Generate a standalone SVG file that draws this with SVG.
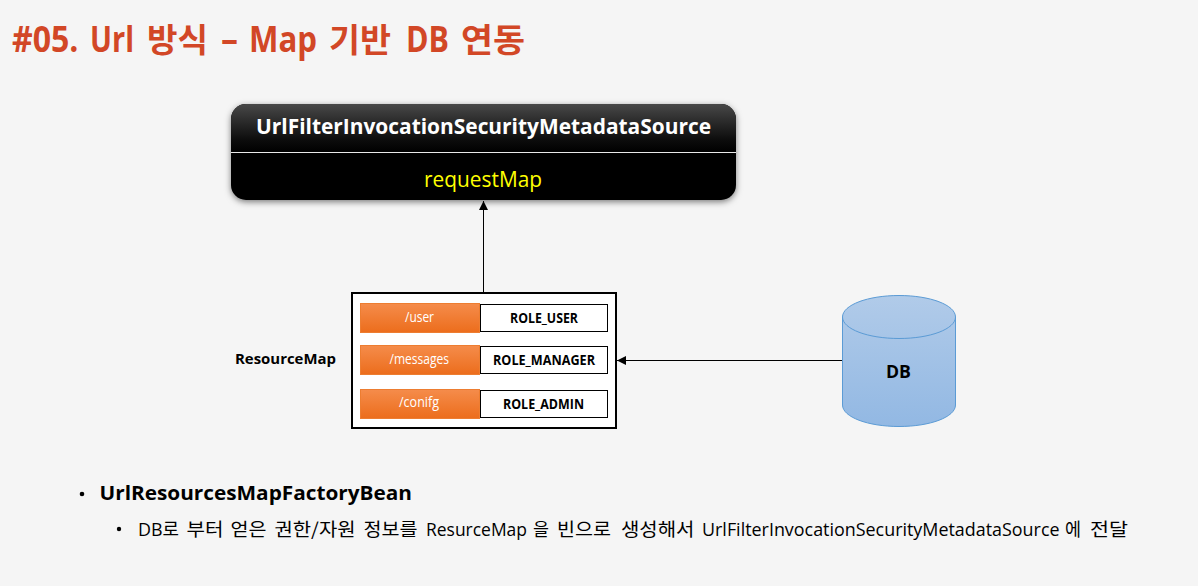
<svg xmlns="http://www.w3.org/2000/svg" width="1198" height="586" viewBox="0 0 1198 586">
<style>
text{font-family:"Open Sans","Noto Sans","Noto Sans CJK KR",sans-serif}
.ko{font-family:"Noto Sans CJK KR",sans-serif}
.k{fill:#000;font-weight:700;font-size:14px}
.o{fill:#fff;font-size:14px}
.orange{fill:url(#og);stroke:#ed7d31;stroke-width:1}
.role{fill:#fff;stroke:#000;stroke-width:1}
.c{stroke:#000;stroke-width:1;fill:none;marker-end:url(#ah)}
</style>
<defs>
<linearGradient id="og" x1="0" y1="0" x2="0" y2="1"><stop offset="0" stop-color="#f58c4b"/><stop offset="1" stop-color="#ec6d1c"/></linearGradient>
<linearGradient id="hd" gradientUnits="userSpaceOnUse" x1="0" y1="104" x2="0" y2="152"><stop offset="0" stop-color="#484848"/><stop offset="0.75" stop-color="#0c0c0c"/><stop offset="1" stop-color="#000"/></linearGradient>
<linearGradient id="db" gradientUnits="userSpaceOnUse" x1="0" y1="295" x2="0" y2="427"><stop offset="0" stop-color="#b1cbe9"/><stop offset="1" stop-color="#92b8e3"/></linearGradient>
<filter id="sh" x="-5%" y="-15%" width="110%" height="135%"><feDropShadow dx="0" dy="2" stdDeviation="3" flood-color="#000" flood-opacity="0.5"/></filter>
<marker id="ah" markerUnits="userSpaceOnUse" markerWidth="10" markerHeight="10" refX="9" refY="4.500" orient="auto"><path d="M0 0L9 4.500L0 9Z" fill="#000"/></marker>
</defs>
<rect width="1198" height="586" fill="#f5f5f5"/>
<text id="title" y="52" font-size="35" font-weight="700" fill="#d24726"><tspan x="12" textLength="66.500" lengthAdjust="spacingAndGlyphs">#05.</tspan> <tspan x="90" textLength="44" lengthAdjust="spacingAndGlyphs">Url</tspan> <tspan class="ko" x="147" font-size="33" textLength="61" lengthAdjust="spacingAndGlyphs">방식</tspan> <tspan x="221" textLength="17" lengthAdjust="spacingAndGlyphs">–</tspan> <tspan x="249" textLength="68" lengthAdjust="spacingAndGlyphs">Map</tspan> <tspan class="ko" x="329" font-size="33" textLength="62" lengthAdjust="spacingAndGlyphs">기반</tspan> <tspan x="406" textLength="43" lengthAdjust="spacingAndGlyphs">DB</tspan> <tspan class="ko" x="461" font-size="33" textLength="64" lengthAdjust="spacingAndGlyphs">연동</tspan></text>
<g id="connectors">
<path class="c" d="M483.500 293V201"/>
<path class="c" d="M842 360.500H617"/>
</g>
<g id="source">
<rect x="231" y="104" width="505" height="96" rx="15" fill="#000" filter="url(#sh)"/>
<path d="M231 152V119a15 15 0 0 1 15-15H721a15 15 0 0 1 15 15V152Z" fill="url(#hd)"/>
<path d="M231 152.500H736" stroke="#e8e8e8" stroke-width="1"/>
<text x="256" y="134" font-size="22" font-weight="700" fill="#fff" textLength="455" lengthAdjust="spacingAndGlyphs">UrlFilterInvocationSecurityMetadataSource</text>
<text x="424" y="187" font-size="22" fill="#ff0" textLength="118" lengthAdjust="spacingAndGlyphs">requestMap</text>
</g>
<g id="resourcemap">
<text x="235" y="364" font-size="15" font-weight="700" fill="#000" textLength="101" lengthAdjust="spacingAndGlyphs">ResourceMap</text>
<rect x="352" y="293" width="264" height="135" fill="#fff" stroke="#000" stroke-width="2"/>
</g>
<g id="row-user">
<rect class="orange" x="360.500" y="303.500" width="119" height="29"/>
<text class="o" x="405" y="322" textLength="29" lengthAdjust="spacingAndGlyphs">/user</text>
<rect class="role" x="480.500" y="304.500" width="127" height="27"/>
<text class="k" x="510" y="322.500" textLength="68" lengthAdjust="spacingAndGlyphs">ROLE_USER</text>
</g>
<g id="row-messages">
<rect class="orange" x="360.500" y="345.500" width="119" height="29"/>
<text class="o" x="389.500" y="364" textLength="59.500" lengthAdjust="spacingAndGlyphs">/messages</text>
<rect class="role" x="480.500" y="346.500" width="127" height="27"/>
<text class="k" x="493" y="364.500" textLength="102" lengthAdjust="spacingAndGlyphs">ROLE_MANAGER</text>
</g>
<g id="row-config">
<rect class="orange" x="360.500" y="389.500" width="119" height="29"/>
<text class="o" x="399" y="407" textLength="40" lengthAdjust="spacingAndGlyphs">/conifg</text>
<rect class="role" x="480.500" y="390.500" width="127" height="27"/>
<text class="k" x="503" y="408.500" textLength="81" lengthAdjust="spacingAndGlyphs">ROLE_ADMIN</text>
</g>
<g id="db-node">
<path d="M842.500 317C842.500 305 867.700 295.500 899 295.500S955.500 305 955.500 317V405C955.500 417 930.300 426.500 899 426.500S842.500 417 842.500 405Z" fill="url(#db)" stroke="#5b9bd5" stroke-width="1"/>
<path d="M842.500 317C842.500 329 867.700 338.500 899 338.500S955.500 329 955.500 317" fill="none" stroke="#5b9bd5" stroke-width="1"/>
<text x="886" y="378" font-size="18" font-weight="700" fill="#000" textLength="25" lengthAdjust="spacingAndGlyphs">DB</text>
</g>
<g id="notes">
<circle cx="82" cy="494" r="2.300" fill="#000"/>
<text x="99.500" y="500" font-size="20" font-weight="700" fill="#000" textLength="312.500" lengthAdjust="spacingAndGlyphs">UrlResourcesMapFactoryBean</text>
<circle cx="119" cy="529" r="2.200" fill="#000"/>
<text y="536" font-size="18" fill="#000"><tspan x="138" textLength="41" lengthAdjust="spacingAndGlyphs">DB로</tspan> <tspan class="ko" x="186.500" textLength="37" lengthAdjust="spacingAndGlyphs">부터</tspan> <tspan class="ko" x="230.500" textLength="36" lengthAdjust="spacingAndGlyphs">얻은</tspan> <tspan class="ko" x="274.500" textLength="81" lengthAdjust="spacingAndGlyphs">권한/자원</tspan> <tspan class="ko" x="363.500" textLength="54" lengthAdjust="spacingAndGlyphs">정보를</tspan> <tspan x="426" textLength="101" lengthAdjust="spacingAndGlyphs">ResurceMap</tspan> <tspan class="ko" x="533" textLength="16" lengthAdjust="spacingAndGlyphs">을</tspan> <tspan class="ko" x="557" textLength="54" lengthAdjust="spacingAndGlyphs">빈으로</tspan> <tspan class="ko" x="621" textLength="73.500" lengthAdjust="spacingAndGlyphs">생성해서</tspan> <tspan x="702" textLength="357.500" lengthAdjust="spacingAndGlyphs">UrlFilterInvocationSecurityMetadataSource</tspan> <tspan class="ko" x="1065" textLength="16" lengthAdjust="spacingAndGlyphs">에</tspan> <tspan class="ko" x="1090" textLength="38" lengthAdjust="spacingAndGlyphs">전달</tspan></text>
</g>
</svg>
